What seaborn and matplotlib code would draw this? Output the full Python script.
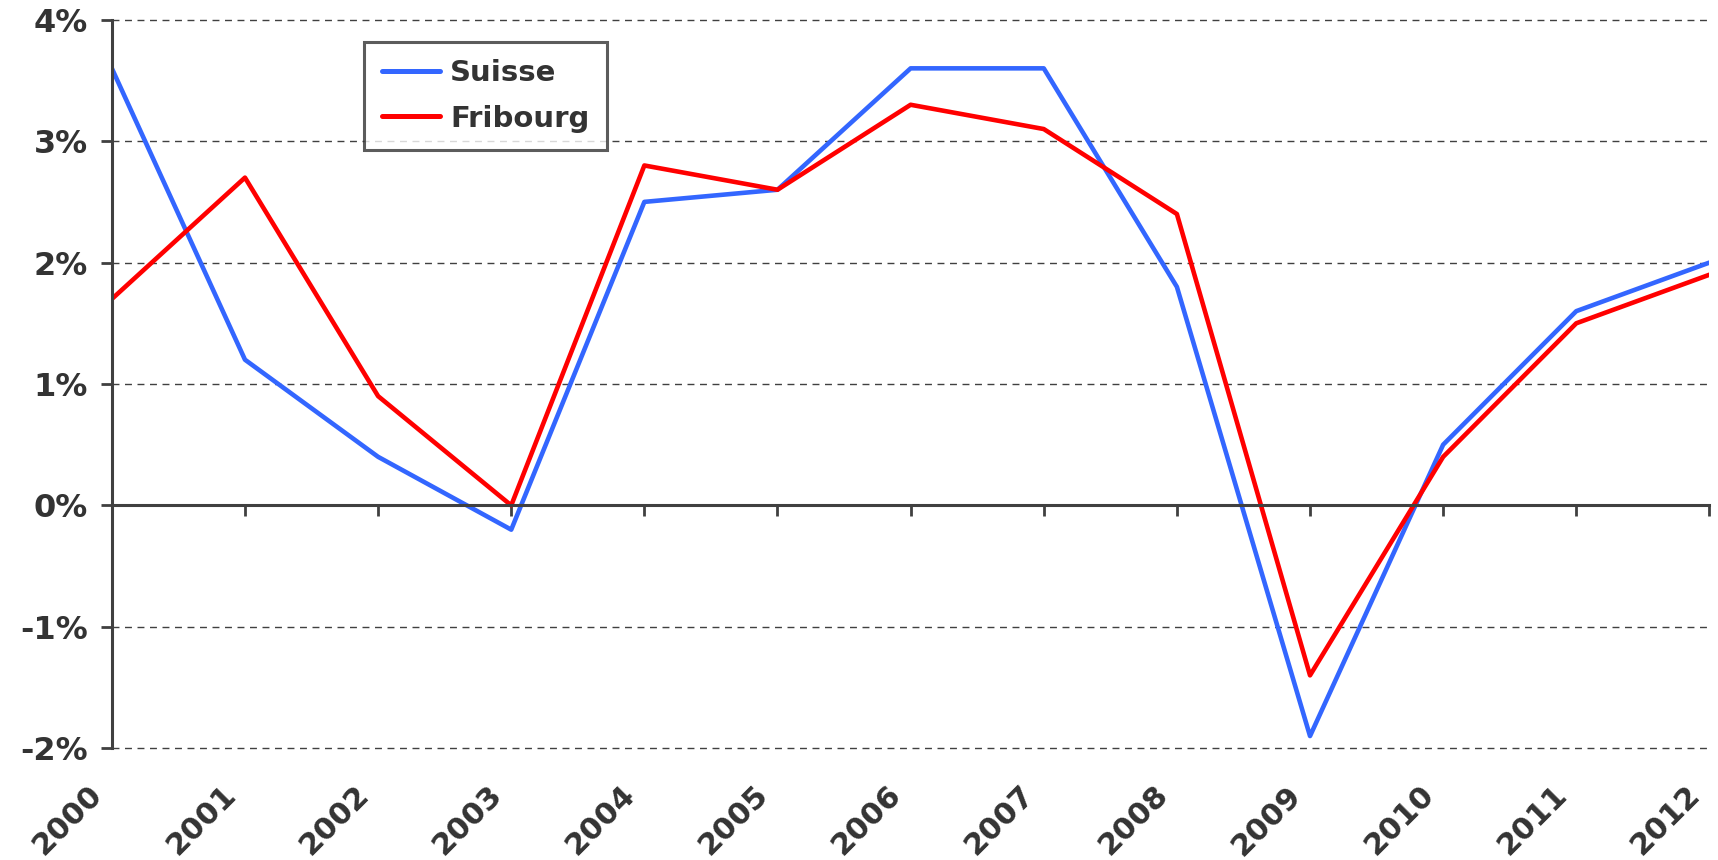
import matplotlib
matplotlib.use("Agg")
import matplotlib.pyplot as plt
import matplotlib.ticker as mticker
import matplotlib.transforms as mtransforms
import seaborn as sns
import pandas as pd

years = list(range(2000, 2013))
suisse = [3.6, 1.2, 0.4, -0.2, 2.5, 2.6, 3.6, 3.6, 1.8, -1.9, 0.5, 1.6, 2.0]
fribourg = [1.7, 2.7, 0.9, 0.0, 2.8, 2.6, 3.3, 3.1, 2.4, -1.4, 0.4, 1.5, 1.9]
series_names = ["Suisse", "Fribourg"]
y_ticks = [-2, -1, 0, 1, 2, 3, 4]

df = pd.DataFrame({
    "annee": years * 2,
    "valeur": suisse + fribourg,
    "serie": [series_names[0]] * len(years) + [series_names[1]] * len(years),
})

sns.set_style("white")
plt.rcParams["font.family"] = ["DejaVu Sans"]
dark = "#333333"

fig = plt.figure(figsize=(17.18, 8.6), dpi=100)
ax = fig.add_axes([0.0651, 0.130, 0.9299, 0.847])

sns.lineplot(data=df, x="annee", y="valeur", hue="serie", hue_order=series_names,
             palette={"Suisse": "#3366FF", "Fribourg": "#FF0000"},
             linewidth=3.3, ax=ax)

ax.set_xlim(2000, 2012)
ax.set_ylim(-2, 4)
ax.set_yticks(y_ticks)
ax.yaxis.set_major_formatter(mticker.FuncFormatter(lambda v, p: f"{v:.0f}%"))
ax.set_xlabel("")
ax.set_ylabel("")

# dashed grid
for v in y_ticks:
    if v != 0:
        ax.axhline(v, color="#404040", linestyle=(0, (5, 4)), linewidth=1,
                   zorder=0, clip_on=False)

for s in ["top", "right"]:
    ax.spines[s].set_visible(False)
ax.spines["left"].set_color("#404040")
ax.spines["left"].set_linewidth(2.2)
ax.spines["bottom"].set_position(("data", 0))
ax.spines["bottom"].set_color("#404040")
ax.spines["bottom"].set_linewidth(2.2)

ax.set_xticks(years)
ax.tick_params(axis="x", direction="out", length=8, width=2, color="#404040",
               labelbottom=False, bottom=True)
ax.tick_params(axis="y", direction="out", length=8, width=2, color="#404040",
               left=True, labelsize=23, labelcolor=dark, pad=9)
for t in ax.get_yticklabels():
    t.set_fontweight("bold")

# year labels at the bottom of the plot
sec = ax.secondary_xaxis(location=0)
sec.set_xticks(years)
sec.set_xticklabels([str(y) for y in years], rotation=45, ha="right",
                    rotation_mode="anchor", fontsize=22, fontweight="bold", color=dark)
sec.tick_params(length=0, pad=23)
sec.spines["bottom"].set_visible(False)
shift = mtransforms.ScaledTranslation(-0.24, 0, fig.dpi_scale_trans)
for t in sec.get_xticklabels():
    t.set_transform(t.get_transform() + shift)

leg = ax.legend(loc="upper left", bbox_to_anchor=(0.158, 0.970), borderaxespad=0,
                fontsize=21, frameon=True, fancybox=False, handlelength=2.0,
                handletextpad=0.35, labelspacing=0.6, borderpad=0.6)
leg.get_frame().set_edgecolor("#333333")
leg.get_frame().set_linewidth(2.2)
for t in leg.get_texts():
    t.set_fontweight("bold")
    t.set_color(dark)
for h in leg.get_lines():
    h.set_linewidth(3.6)

fig.savefig("out.png", dpi=100)
